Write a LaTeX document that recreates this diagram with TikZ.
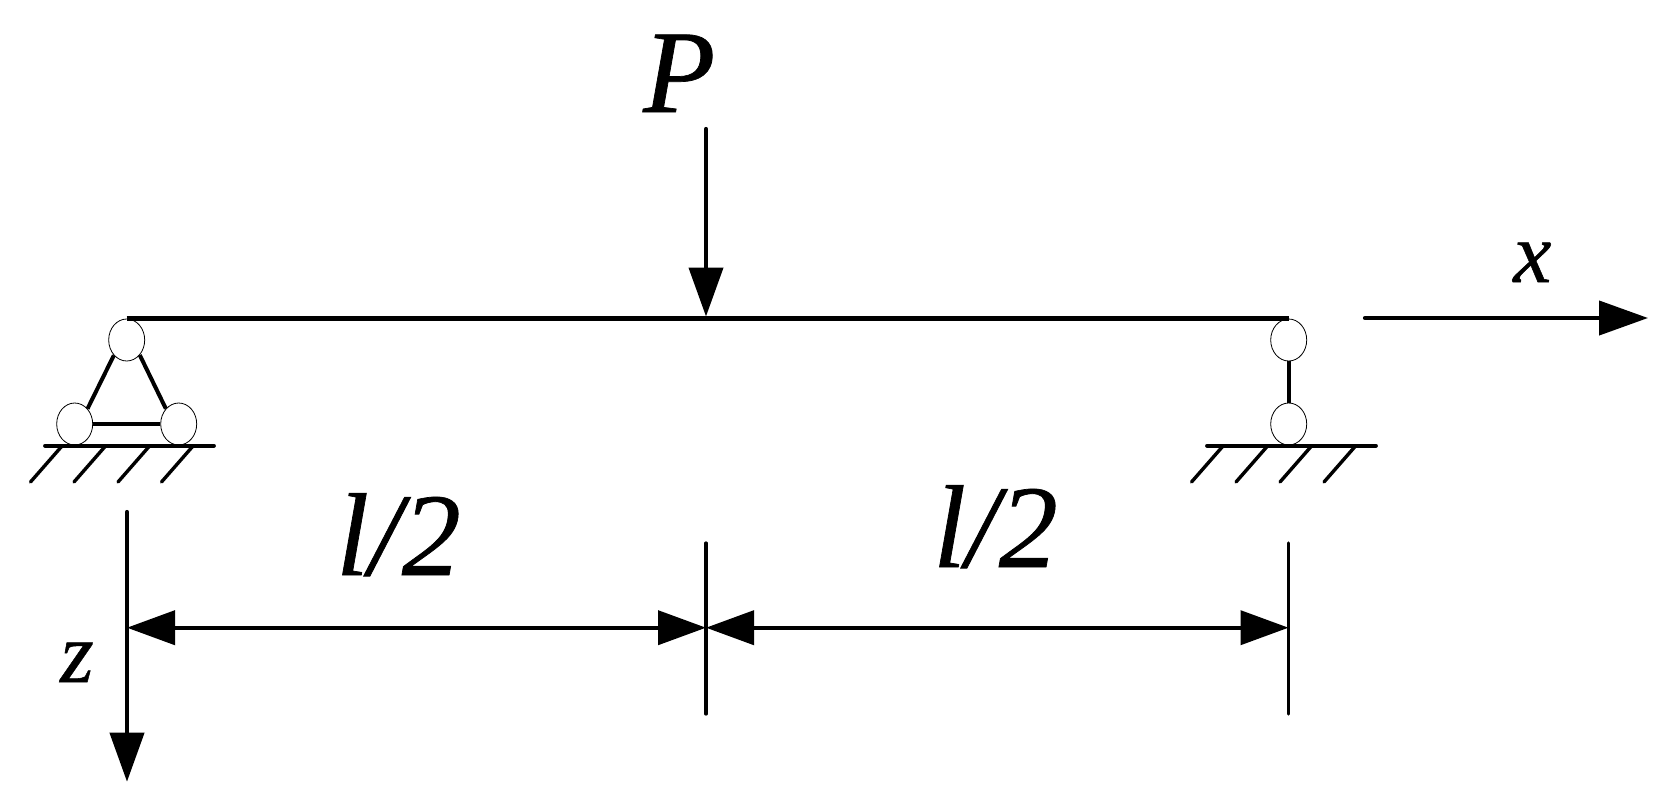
\documentclass[tikz,border=0pt]{standalone}
\usepackage{fontspec}
\setmainfont[ItalicFeatures={FakeBold=0.6}]{Liberation Serif}
\usetikzlibrary{arrows.meta,shapes.geometric}
\tikzset{
  pin/.style={ellipse,draw,line width=0.8pt,fill=white,minimum width=36pt,minimum height=42pt,inner sep=0pt},
  heavy/.style={line width=5pt},
  barlink/.style={line width=4pt},
  ground/.style={line width=3.8pt,line cap=round},
  hatch/.style={line width=3.4pt,line cap=round},
  axisline/.style={line width=4.2pt,line cap=round,-{Triangle[length=49pt,width=34pt]}},
  dimline/.style={line width=4pt,{Triangle[length=48pt,width=34pt]}-{Triangle[length=48pt,width=34pt]}},
  tickline/.style={line width=3.2pt,line cap=round},
  biglabel/.style={inner sep=0pt,anchor=base west,font=\fontsize{118}{118}\selectfont\itshape},
  smalllabel/.style={inner sep=0pt,anchor=base west,font=\fontsize{86}{86}\selectfont\itshape}
}
\begin{document}
\begin{tikzpicture}[x=1pt,y=-1pt]
\useasboundingbox (0,0) rectangle (1680,806);
% supports
\node[pin] (lt) at (126.7,340) {};
\node[pin] (ll) at (74.7,424) {};
\node[pin] (lr) at (178.7,424) {};
\node[pin] (rt) at (1288.7,340) {};
\node[pin] (rb) at (1288.7,424) {};
\draw[barlink] (lt.230) -- (ll.50);
\draw[barlink] (lt.311) -- (lr.130);
\draw[barlink] (ll) -- (lr);
\draw[barlink] (rt) -- (rb);
% beam
\coordinate (bl) at (126.7,318);
\coordinate (br) at (1288.7,318);
\coordinate (bm) at (706,318);
\draw[heavy] (bl) -- (br);
% grounds
\coordinate (g1a) at (45,445.7); \coordinate (g1b) at (214,445.7);
\coordinate (g2a) at (1207,445.7); \coordinate (g2b) at (1376,445.7);
\draw[ground] (g1a) -- (g1b);
\draw[ground] (g2a) -- (g2b);
\foreach \x in {62,105.5,149.5,193}{\draw[hatch] (\x,446) -- (\x-31.5,482);}
\foreach \x in {1223,1267.5,1311.5,1355.5}{\draw[hatch] (\x,446) -- (\x-31.5,482);}
% axes
\coordinate (pa) at (706,129); \coordinate (pb) at (706,316.5);
\draw[axisline] (pa) -- (pb);
\coordinate (xa) at (1365,318); \coordinate (xb) at (1648,318);
\draw[axisline] (xa) -- (xb);
\coordinate (za) at (127,512); \coordinate (zb) at (127,781.7);
\draw[axisline] (za) -- (zb);
% dimensions
\coordinate (m1) at (706,543); \coordinate (m2) at (706,714);
\coordinate (r1) at (1288.5,543); \coordinate (r2) at (1288.5,714);
\draw[tickline] (m1) -- (m2);
\draw[tickline] (r1) -- (r2);
\coordinate (d1) at (127,627.7); \coordinate (d2) at (706,627.7); \coordinate (d3) at (1288.5,627.7);
\draw[dimline] (d1) -- (d2);
\draw[dimline] (d2) -- (d3);
% labels
\node[biglabel] (lP) at (643,112) {P};
\node[biglabel] (lA) at (336,575) {l/2};
\node[biglabel] (lB) at (933,567) {l/2};
\node[smalllabel] (lx) at (1513,282) {x};
\node[smalllabel] (lz) at (60,682) {z};
\end{tikzpicture}
\end{document}
